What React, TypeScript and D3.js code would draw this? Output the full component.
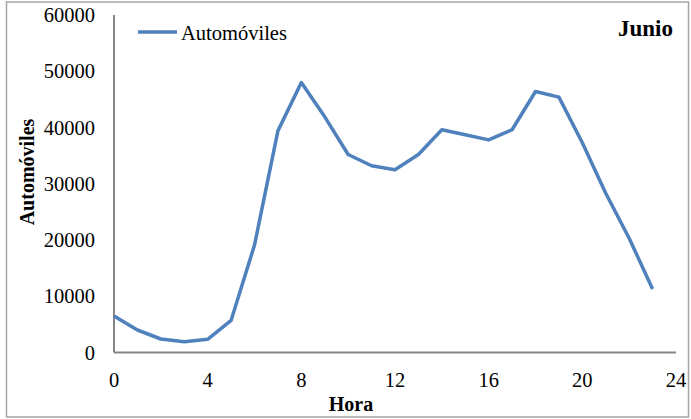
import React, { useEffect } from "react";
import * as d3 from "d3";

const hours = [0, 1, 2, 3, 4, 5, 6, 7, 8, 9, 10, 11, 12, 13, 14, 15, 16, 17, 18, 19, 20, 21, 22, 23];
const autos = [6500, 4000, 2400, 1900, 2350, 5700, 19100, 39400, 48000, 41900, 35200, 33200, 32500, 35200, 39600, 38700, 37800, 39600, 46400, 45400, 37300, 28300, 20300, 11300];
const xTicks = [0, 4, 8, 12, 16, 20, 24];
const yTicks = [0, 10000, 20000, 30000, 40000, 50000, 60000];
const seriesName = "Automóviles";
const title = "Junio";
const xTitle = "Hora";
const yTitle = "Automóviles";

export default function App() {
  useEffect(() => {
    document.body.style.margin = "0";
  }, []);
  const W = 691, H = 419;
  const x = d3.scaleLinear().domain([0, 24]).range([114, 676]);
  const y = d3.scaleLinear().domain([0, 60000]).range([352.5, 15]);
  const line = d3.line<number>().x((_, i) => x(hours[i])).y((d) => y(d));
  const font = "'Liberation Serif', 'Times New Roman', serif";
  return (
    <svg width={W} height={H} style={{ display: "block", fontFamily: font }}>
      <rect x={0} y={0} width={W} height={H} fill="#fff" />
      <rect x={6.5} y={2} width={682} height={415} fill="none" stroke="#a6a6a6" strokeWidth={1.5} />
      <line x1={x(0)} x2={x(0)} y1={y(60000)} y2={y(0)} stroke="#868686" strokeWidth={2} />
      <line x1={x(0)} x2={x(24)} y1={y(0)} y2={y(0)} stroke="#868686" strokeWidth={2} />
      {yTicks.map((t) => (
        <text key={t} x={95} y={y(t)} dy="0.35em" textAnchor="end" fontSize={20.5} fill="#000">
          {t}
        </text>
      ))}
      {xTicks.map((t) => (
        <text key={t} x={x(t)} y={387} textAnchor="middle" fontSize={20.5} fill="#000">
          {t}
        </text>
      ))}
      <path d={line(autos) || ""} fill="none" stroke="#4f81bd" strokeWidth={3.5} strokeLinejoin="round" />
      <line x1={138} x2={177} y1={32} y2={32} stroke="#4f81bd" strokeWidth={3.5} />
      <text x={181} y={40} fontSize={20.5} fill="#000">{seriesName}</text>
      <text x={673} y={36} textAnchor="end" fontSize={23} fontWeight="bold" fill="#000">{title}</text>
      <text x={351} y={411} textAnchor="middle" fontSize={20} fontWeight="bold" fill="#000">{xTitle}</text>
      <text transform="translate(34,172) rotate(-90)" textAnchor="middle" fontSize={20} fontWeight="bold" fill="#000">
        {yTitle}
      </text>
    </svg>
  );
}
